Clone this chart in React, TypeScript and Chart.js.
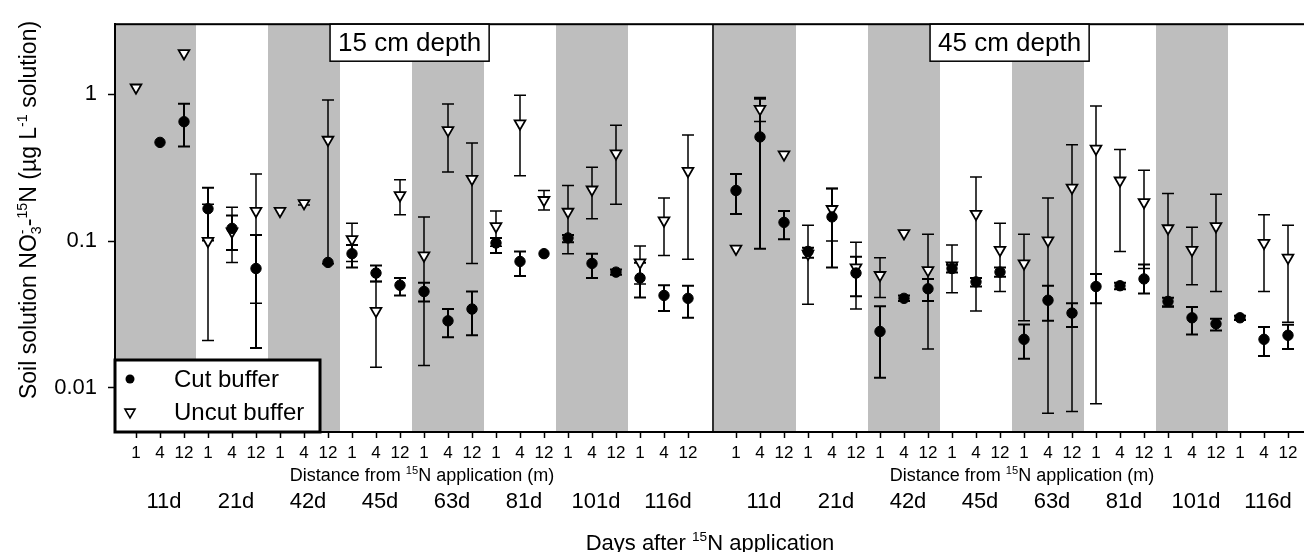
import React, { useEffect, useRef } from "react";
import { Chart, registerables } from "chart.js";

Chart.register(...registerables);

// ---------------- data ----------------
const distances = ["1", "4", "12"];
const days = ["11d", "21d", "42d", "45d", "63d", "81d", "101d", "116d"];
const panelTitles = ["15 cm depth", "45 cm depth"];
const seriesLabels = ["Cut buffer", "Uncut buffer"];
const yTickValues = [0.01, 0.1, 1];

// 15 cm depth
const cut15 = [null, 0.47, 0.65, 0.166, 0.122, 0.065, null, null, 0.0715, 0.082, 0.0605, 0.05, 0.0453, 0.0286, 0.0344, 0.097, 0.0726, 0.082, 0.105, 0.0704, 0.0614, 0.056, 0.0426, 0.0407];
const cut15Lo = [null, null, 0.44, 0.101, 0.087, 0.0187, null, null, null, 0.066, 0.053, 0.0426, 0.0388, 0.0221, 0.0228, 0.083, 0.0577, null, 0.098, 0.056, 0.059, 0.0413, 0.0334, 0.03];
const cut15Hi = [null, null, 0.86, 0.231, 0.149, 0.11, null, null, null, 0.094, 0.068, 0.056, 0.052, 0.0344, 0.0453, 0.105, 0.0847, null, 0.11, 0.082, 0.064, 0.071, 0.05, 0.0496];
const uncut15 = [1.11, null, 1.9, 0.1, 0.116, 0.16, 0.16, 0.181, 0.489, 0.103, 0.0334, 0.205, 0.0796, 0.569, 0.265, 0.126, 0.632, 0.19, 0.158, 0.224, 0.395, 0.0715, 0.138, 0.3];
const uncut15Lo = [null, null, null, 0.021, 0.0715, 0.0377, null, 0.176, 0.07, 0.0726, 0.0138, 0.151, 0.0142, 0.295, 0.0704, 0.092, 0.278, 0.163, 0.082, 0.142, 0.178, 0.051, 0.0796, 0.075];
const uncut15Hi = [null, null, null, 0.178, 0.17, 0.286, null, 0.188, 0.912, 0.132, 0.053, 0.261, 0.146, 0.858, 0.466, 0.16, 0.985, 0.221, 0.239, 0.318, 0.614, 0.0926, 0.196, 0.527];

// 45 cm depth
const cut45 = [0.221, 0.512, 0.134, 0.085, 0.146, 0.0605, 0.0242, 0.0407, 0.0473, 0.065, 0.0527, 0.0614, 0.0214, 0.0395, 0.0323, 0.049, 0.0496, 0.0552, 0.0388, 0.03, 0.0273, 0.03, 0.0214, 0.0228];
const cut45Lo = [0.153, 0.0886, 0.103, 0.077, 0.066, 0.042, 0.0117, 0.039, 0.039, 0.061, 0.049, 0.057, 0.0158, 0.0286, 0.026, 0.0377, 0.047, 0.0439, 0.036, 0.0231, 0.0246, 0.029, 0.0165, 0.0184];
const cut45Hi = [0.286, 0.93, 0.16, 0.09, 0.228, 0.078, 0.036, 0.0425, 0.0552, 0.069, 0.056, 0.066, 0.027, 0.0496, 0.0377, 0.0595, 0.052, 0.0693, 0.041, 0.0355, 0.0295, 0.031, 0.026, 0.0269];
const uncut45 = [0.0886, 0.794, 0.389, 0.082, 0.165, 0.066, 0.0586, 0.113, 0.0633, 0.068, 0.153, 0.087, 0.0704, 0.101, 0.231, 0.425, 0.258, 0.184, 0.122, 0.087, 0.126, null, 0.097, 0.077];
const uncut45Lo = [null, 0.653, null, 0.0371, 0.1, 0.0344, 0.0413, null, 0.0184, 0.0445, 0.0334, 0.0453, 0.0286, 0.0067, 0.0069, 0.0078, 0.085, 0.065, 0.0355, 0.0503, 0.0453, null, 0.0453, 0.028];
const uncut45Hi = [null, 0.95, null, 0.128, 0.228, 0.098, 0.077, null, 0.111, 0.094, 0.273, 0.132, 0.111, 0.196, 0.453, 0.83, 0.42, 0.304, 0.211, 0.124, 0.208, null, 0.151, 0.128];

// ---------------- layout helpers ----------------
const FONT = '"Liberation Sans", Arial, Helvetica, sans-serif';
const GRAY = "#bebebe";
const NCAT = days.length * distances.length; // 24 per panel
const panelStart = [0, NCAT + 1]; // one empty slot holds the divider
const X_MIN = -0.875;
const X_MAX = 49;

type Pt = { x: number; y: number; lo: number | null; hi: number | null };

function buildPoints(panels: Array<[Array<number | null>, Array<number | null>, Array<number | null>]>): Pt[] {
  const out: Pt[] = [];
  panels.forEach(([vals, lo, hi], p) => {
    vals.forEach((v, i) => {
      if (v == null) return;
      out.push({ x: panelStart[p] + i, y: v, lo: lo[i], hi: hi[i] });
    });
  });
  return out;
}

const xTickPositions: number[] = [];
panelStart.forEach((s) => {
  for (let i = 0; i < NCAT; i++) xTickPositions.push(s + i);
});

type Part = { t?: string; sup?: string; sub?: string };

function drawRich(ctx: CanvasRenderingContext2D, parts: Part[], cx: number, cy: number, size: number) {
  const small = size * 0.62;
  const widths = parts.map((p) => {
    if (p.t != null) {
      ctx.font = `${size}px ${FONT}`;
      return ctx.measureText(p.t).width;
    }
    ctx.font = `${small}px ${FONT}`;
    return Math.max(p.sup ? ctx.measureText(p.sup).width : 0, p.sub ? ctx.measureText(p.sub).width : 0);
  });
  const total = widths.reduce((a, b) => a + b, 0);
  let x = cx - total / 2;
  const base = cy + size * 0.36;
  ctx.textAlign = "left";
  ctx.textBaseline = "alphabetic";
  ctx.fillStyle = "#000";
  parts.forEach((p, i) => {
    if (p.t != null) {
      ctx.font = `${size}px ${FONT}`;
      ctx.fillText(p.t, x, base);
    } else {
      ctx.font = `${small}px ${FONT}`;
      if (p.sup) ctx.fillText(p.sup, x, base - size * 0.42);
      if (p.sub) ctx.fillText(p.sub, x, base + size * 0.2);
    }
    x += widths[i];
  });
}

const yTitle: Part[] = [
  { t: "Soil solution NO" },
  { sub: "3", sup: "-" },
  { t: "-" },
  { sup: "15" },
  { t: "N (µg L" },
  { sup: "-1" },
  { t: " solution)" },
];
const distTitle: Part[] = [{ t: "Distance from " }, { sup: "15" }, { t: "N application (m)" }];
const xTitle: Part[] = [{ t: "Days after " }, { sup: "15" }, { t: "N application" }];

const decorPlugin = {
  id: "decor",
  beforeDatasetsDraw(chart: any) {
    const { ctx, chartArea: a, scales } = chart;
    const xs = scales.x;
    const ys = scales.y;
    ctx.save();
    // shaded day bands
    panelStart.forEach((s, p) => {
      days.forEach((_, g) => {
        if (g % 2 !== 0) return;
        let from = xs.getPixelForValue(s + g * 3 - 0.5);
        const to = xs.getPixelForValue(s + g * 3 + 2.5);
        if (g === 0) from = p === 0 ? a.left : xs.getPixelForValue(s - 1);
        ctx.fillStyle = GRAY;
        ctx.fillRect(from, a.top, to - from, a.bottom - a.top);
      });
    });
    // frame + divider
    ctx.strokeStyle = "#000";
    ctx.lineWidth = 2;
    ctx.strokeRect(a.left, a.top, a.right - a.left, a.bottom - a.top);
    ctx.lineWidth = 1.5;
    const dx = xs.getPixelForValue(panelStart[1] - 1) + 1;
    ctx.beginPath();
    ctx.moveTo(dx, a.top);
    ctx.lineTo(dx, a.bottom);
    ctx.stroke();
    // error bars
    chart.data.datasets.forEach((ds: any, di: number) => {
      const meta = chart.getDatasetMeta(di);
      ctx.lineWidth = ds.errWidth;
      ctx.strokeStyle = "#000";
      meta.data.forEach((el: any, idx: number) => {
        const raw = ds.data[idx] as Pt;
        if (raw.lo == null && raw.hi == null) return;
        const x = el.x;
        const yl = ys.getPixelForValue(raw.lo ?? raw.y);
        const yh = ys.getPixelForValue(raw.hi ?? raw.y);
        ctx.beginPath();
        ctx.moveTo(x, yl);
        ctx.lineTo(x, yh);
        if (raw.lo != null) {
          ctx.moveTo(x - 6, yl);
          ctx.lineTo(x + 6, yl);
        }
        if (raw.hi != null) {
          ctx.moveTo(x - 6, yh);
          ctx.lineTo(x + 6, yh);
        }
        ctx.stroke();
      });
    });
    ctx.restore();
  },
  afterDatasetsDraw(chart: any) {
    const { ctx, chartArea: a, scales } = chart;
    const xs = scales.x;
    ctx.save();
    // panel title boxes
    panelStart.forEach((s, p) => {
      const cx = xs.getPixelForValue(s + 11.4);
      ctx.font = `26px ${FONT}`;
      const w = ctx.measureText(panelTitles[p]).width + 16;
      const h = 37;
      ctx.fillStyle = "#fff";
      ctx.fillRect(cx - w / 2, a.top, w, h);
      ctx.strokeStyle = "#000";
      ctx.lineWidth = 1.5;
      ctx.strokeRect(cx - w / 2, a.top, w, h);
      ctx.fillStyle = "#000";
      ctx.textAlign = "center";
      ctx.textBaseline = "middle";
      ctx.fillText(panelTitles[p], cx, a.top + h / 2 + 1);
    });
    // legend
    const lx = a.left;
    const lw = 205;
    const ly = 360;
    const lh = a.bottom - ly;
    ctx.fillStyle = "#fff";
    ctx.fillRect(lx, ly, lw, lh);
    ctx.strokeStyle = "#000";
    ctx.lineWidth = 3;
    ctx.strokeRect(lx, ly, lw, lh);
    const rows = [ly + 19, ly + 52];
    chart.data.datasets.forEach((ds: any, di: number) => {
      const y = rows[di];
      const mx = lx + 15;
      ctx.lineWidth = 1.6;
      ctx.strokeStyle = "#000";
      if (ds.pointStyle === "circle") {
        ctx.fillStyle = "#000";
        ctx.beginPath();
        ctx.arc(mx, y, 4.5, 0, Math.PI * 2);
        ctx.fill();
      } else {
        const r = 5.8;
        ctx.fillStyle = "#fff";
        ctx.beginPath();
        ctx.moveTo(mx - r * 0.866, y - r * 0.5);
        ctx.lineTo(mx + r * 0.866, y - r * 0.5);
        ctx.lineTo(mx, y + r);
        ctx.closePath();
        ctx.fill();
        ctx.stroke();
      }
      ctx.fillStyle = "#000";
      ctx.font = `24px ${FONT}`;
      ctx.textAlign = "left";
      ctx.textBaseline = "middle";
      ctx.fillText(ds.label, lx + 59, y + 1);
    });
    ctx.restore();
  },
  afterDraw(chart: any) {
    const { ctx, scales } = chart;
    const xs = scales.x;
    ctx.save();
    panelStart.forEach((s) => {
      const c = (xs.getPixelForValue(s) + xs.getPixelForValue(s + NCAT - 1)) / 2 + 10;
      drawRich(ctx, distTitle, c, 475, 18);
      days.forEach((d, g) => {
        ctx.font = `22px ${FONT}`;
        ctx.fillStyle = "#000";
        ctx.textAlign = "center";
        ctx.textBaseline = "middle";
        ctx.fillText(d, xs.getPixelForValue(s + g * 3 + 1) + 4, 502);
      });
    });
    drawRich(ctx, xTitle, xs.getPixelForValue(panelStart[1] - 1) - 2, 542, 22);
    ctx.translate(28, 210);
    ctx.rotate(-Math.PI / 2);
    drawRich(ctx, yTitle, 0, 0, 23);
    ctx.restore();
  },
};

export default function App() {
  const ref = useRef<HTMLCanvasElement | null>(null);

  useEffect(() => {
    document.body.style.margin = "0";
    const canvas = ref.current;
    if (!canvas) return;
    const chart = new Chart(canvas, {
      type: "scatter",
      data: {
        datasets: [
          {
            label: seriesLabels[0],
            data: buildPoints([
              [cut15, cut15Lo, cut15Hi],
              [cut45, cut45Lo, cut45Hi],
            ]) as any,
            pointStyle: "circle",
            pointRadius: 5.2,
            backgroundColor: "#000",
            borderColor: "#000",
            borderWidth: 1,
            order: 1,
            errWidth: 2,
          } as any,
          {
            label: seriesLabels[1],
            data: buildPoints([
              [uncut15, uncut15Lo, uncut15Hi],
              [uncut45, uncut45Lo, uncut45Hi],
            ]) as any,
            pointStyle: "triangle",
            pointRotation: 180,
            pointRadius: 6.2,
            backgroundColor: "#fff",
            borderColor: "#000",
            borderWidth: 1.8,
            order: 2,
            errWidth: 1.5,
          } as any,
        ],
      },
      options: {
        animation: false,
        responsive: false,
        events: [],
        layout: { padding: { top: 12, right: 8, left: 0, bottom: 0 } },
        plugins: {
          legend: { display: false },
          tooltip: { enabled: false },
        },
        scales: {
          x: {
            type: "linear",
            min: X_MIN,
            max: X_MAX,
            afterBuildTicks: (scale: any) => {
              scale.ticks = xTickPositions.map((v) => ({ value: v }));
            },
            afterFit: (scale: any) => {
              scale.height = 120;
            },
            ticks: {
              autoSkip: false,
              maxRotation: 0,
              minRotation: 0,
              padding: 5,
              color: "#000",
              font: { family: FONT, size: 17 },
              callback: (value: any) => {
                const v = Number(value);
                const i = v >= panelStart[1] ? v - panelStart[1] : v;
                return distances[i % 3];
              },
            },
            grid: {
              display: true,
              drawOnChartArea: false,
              drawTicks: true,
              tickLength: 6,
              tickColor: "#000",
              tickWidth: 1.5,
            },
            border: { display: true, color: "#000", width: 2 },
          },
          y: {
            type: "logarithmic",
            min: 0.005,
            max: 3,
            afterBuildTicks: (scale: any) => {
              scale.ticks = yTickValues.map((v) => ({ value: v }));
            },
            afterFit: (scale: any) => {
              scale.width = 115;
            },
            ticks: {
              color: "#000",
              padding: 11,
              font: { family: FONT, size: 22 },
              callback: (value: any) => String(Number(value)),
            },
            grid: {
              display: true,
              drawOnChartArea: false,
              drawTicks: true,
              tickLength: 7,
              tickColor: "#000",
              tickWidth: 1.5,
            },
            border: { display: true, color: "#000", width: 2 },
          },
        },
      } as any,
      plugins: [decorPlugin],
    });
    return () => chart.destroy();
  }, []);

  return (
    <div style={{ width: 1304, height: 552, overflow: "hidden", background: "#fff" }}>
      <canvas ref={ref} width={1320} height={552} style={{ display: "block" }} />
    </div>
  );
}
